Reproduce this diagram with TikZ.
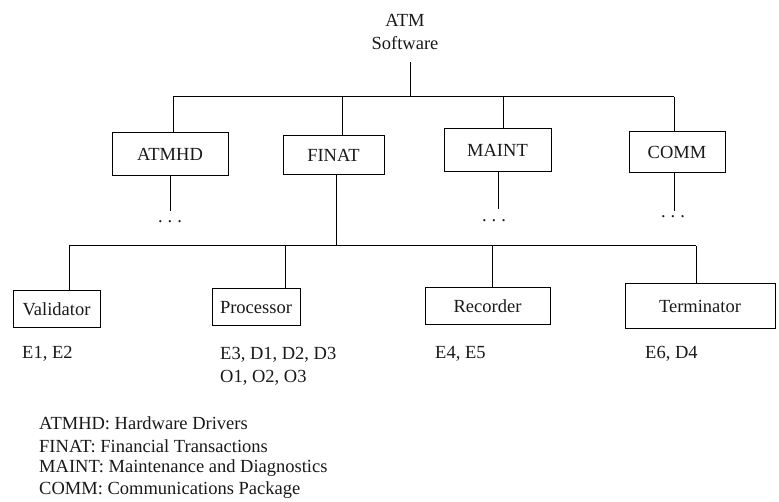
\documentclass[tikz,border=0pt]{standalone}
\usepackage{fontspec}
\setmainfont{Liberation Serif}
\begin{document}
\begin{tikzpicture}[x=1pt,y=-1pt,
  every node/.style={font=\fontsize{18.5}{22}\selectfont, text=black!90, inner sep=0pt},
  box/.style={draw, line width=1pt},
  ln/.style={line width=1pt},
  lbl/.style={anchor=west}]
\useasboundingbox (0,0) rectangle (779,502);
% root
\node[align=center] (root) at (405,32) {ATM\\[1pt]Software};
\coordinate (rt) at (410,62);
\coordinate (bus1) at (410,97);
\coordinate (b1a) at (173,97);
\coordinate (b1b) at (342,97);
\coordinate (b1c) at (503,97);
\coordinate (b1d) at (674,97);
% level 1 boxes
\node[box, minimum width=116, minimum height=43] (atmhd) at (170,154.5) {ATMHD};
\node[box, minimum width=101, minimum height=39] (finat) at (333.5,155.5) {FINAT};
\node[box, minimum width=107, minimum height=43] (maint) at (497.5,150.5) {MAINT};
\node[box, minimum width=96, minimum height=41] (comm) at (677,152.5) {COMM};
\draw[ln] (rt) -- (bus1);
\draw[ln] (b1a) -- (b1d);
\draw[ln] (b1a) -- (b1a |- atmhd.north);
\draw[ln] (b1b) -- (b1b |- finat.north);
\draw[ln] (b1c) -- (b1c |- maint.north);
\draw[ln] (b1d) -- (b1d |- comm.north);
% dangling
\coordinate (da) at (170,211);
\coordinate (dc) at (498,209);
\coordinate (dd) at (674,211);
\draw[ln] (da |- atmhd.south) -- (da);
\draw[ln] (dc |- maint.south) -- (dc);
\draw[ln] (dd |- comm.south) -- (dd);
\node (dotsa) at (170,222) {.\hspace{5pt}.\hspace{5pt}.};
\node (dotsc) at (494,221) {.\hspace{5pt}.\hspace{5pt}.};
\node (dotsd) at (673,217) {.\hspace{5pt}.\hspace{5pt}.};
% level 2
\coordinate (fb) at (336,246);
\draw[ln] (fb |- finat.south) -- (fb);
\node[box, minimum width=87, minimum height=37] (valid) at (56.5,309.5) {Validator};
\node[box, minimum width=88, minimum height=37] (proc) at (256,307.5) {Processor};
\node[box, minimum width=125, minimum height=37] (rec) at (487.5,306.5) {Recorder};
\node[box, minimum width=150, minimum height=45] (term) at (700,306.5) {Terminator};
\coordinate (b2a) at (69,246);
\coordinate (b2b) at (285,246);
\coordinate (b2c) at (492,246);
\coordinate (b2d) at (696,246);
\draw[ln] (b2a) -- (b2d);
\draw[ln] (b2a) -- (b2a |- valid.north);
\draw[ln] (b2b) -- (b2b |- proc.north);
\draw[ln] (b2c) -- (b2c |- rec.north);
\draw[ln] (b2d) -- (b2d |- term.north);
% event labels
\node[lbl] (ev1) at (22,354) {E1, E2};
\node[lbl] (ev2) at (220,355) {E3, D1, D2, D3};
\node[lbl] (ev3) at (220,378) {O1, O2, O3};
\node[lbl] (ev4) at (435,354) {E4, E5};
\node[lbl] (ev5) at (645,354) {E6, D4};
% legend
\node[lbl] (lg1) at (39,423) {ATMHD: Hardware Drivers};
\node[lbl] (lg2) at (39,446) {FINAT: Financial Transactions};
\node[lbl] (lg3) at (39,468) {MAINT: Maintenance and Diagnostics};
\node[lbl] (lg4) at (39,490) {COMM: Communications Package};
\end{tikzpicture}
\end{document}
